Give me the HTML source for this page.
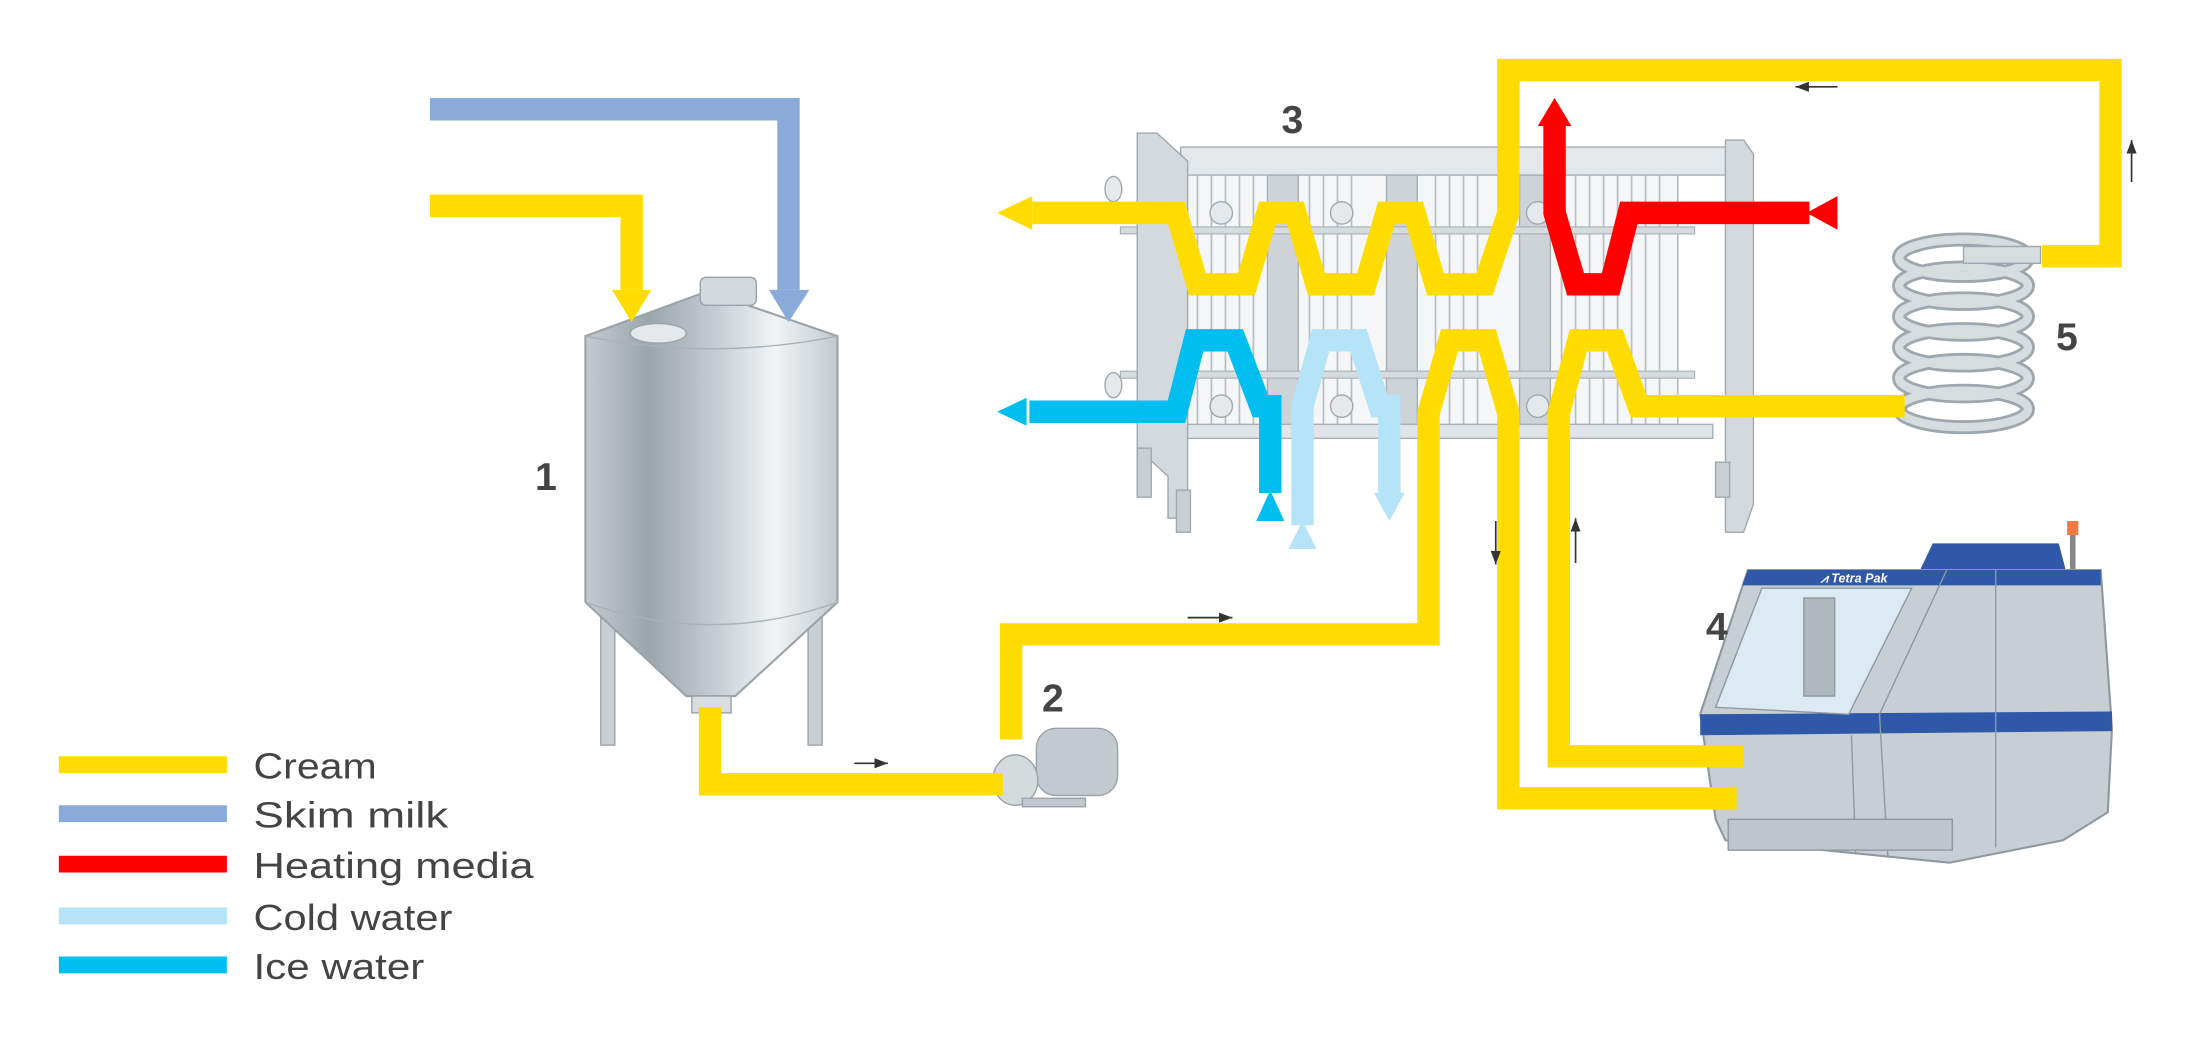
<!DOCTYPE html>
<html><head><meta charset="utf-8"><style>
html,body{margin:0;padding:0;background:#fff;}
svg{display:block;}
text{font-family:"Liberation Sans",sans-serif;}
</style></head><body>
<svg width="2196" height="1049" viewBox="0 0 1568 749" xmlns="http://www.w3.org/2000/svg">
<defs>
<linearGradient id="tank" x1="0" x2="1" y1="0" y2="0">
<stop offset="0" stop-color="#c4cbd0"/><stop offset="0.25" stop-color="#9aa5ad"/><stop offset="0.5" stop-color="#c3cad0"/><stop offset="0.75" stop-color="#f2f4f5"/><stop offset="1" stop-color="#c2c9ce"/>
</linearGradient>
<marker id="ar" markerWidth="8" markerHeight="6" refX="8" refY="3" orient="auto"><path d="M0,0 L8,3 L0,6 z" fill="#333"/></marker>
</defs>

<!-- Tank 1 -->
<rect x="429" y="435" width="10" height="97" fill="#c9cfd3" stroke="#9aa3aa"/>
<rect x="577" y="435" width="10" height="97" fill="#c9cfd3" stroke="#9aa3aa"/>
<path d="M418,240 L505,208 L598,240 L598,430 L525,497 L490,497 L418,430 Z" fill="url(#tank)" stroke="#9aa3aa" stroke-width="1.5"/>
<path d="M418,240 Q508,258 598,240" fill="none" stroke="#aab2b8"/>
<path d="M418,430 Q508,462 598,430" fill="none" stroke="#aab2b8"/>
<ellipse cx="470" cy="238" rx="20" ry="7" fill="#e4e8ea" stroke="#9aa3aa"/>
<rect x="500" y="198" width="40" height="20" rx="4" fill="#d3d8dc" stroke="#9aa3aa"/>
<rect x="494" y="497" width="28" height="12" fill="#d9dde0" stroke="#9aa3aa"/>

<!-- Heat exchanger 3 frame -->
<rect x="843" y="120" width="355" height="190" fill="#f4f6f7" stroke="#a8b0b6"/>
<g stroke="#b7bec3" stroke-width="1.2">
<path d="M855,125V305M865,125V305M875,125V305M885,125V305M895,125V305M935,125V305M945,125V305M955,125V305M965,125V305M1025,125V305M1035,125V305M1045,125V305M1055,125V305M1115,125V305M1125,125V305M1135,125V305M1145,125V305M1155,125V305M1165,125V305M1175,125V305M1185,125V305"/>
</g>
<rect x="905" y="125" width="22" height="180" fill="#cdd3d7" stroke="#a8b0b6"/>
<rect x="990" y="125" width="22" height="180" fill="#cdd3d7" stroke="#a8b0b6"/>
<rect x="1085" y="125" width="22" height="180" fill="#cdd3d7" stroke="#a8b0b6"/>
<rect x="843" y="105" width="405" height="20" fill="#e4e8ea" stroke="#a8b0b6"/>
<rect x="800" y="162" width="410" height="5" fill="#d6dbde" stroke="#a8b0b6" stroke-width="0.8"/>
<rect x="800" y="265" width="410" height="5" fill="#d6dbde" stroke="#a8b0b6" stroke-width="0.8"/>
<rect x="843" y="303" width="380" height="10" fill="#e1e5e8" stroke="#a8b0b6"/>
<path d="M812,95 L826,95 L848,115 L848,370 L834,370 L834,340 L812,320 Z" fill="#d3d9dd" stroke="#a0a9af"/>
<rect x="840" y="350" width="10" height="30" fill="#c9cfd3" stroke="#a0a9af"/>
<rect x="812" y="320" width="10" height="35" fill="#c9cfd3" stroke="#a0a9af"/>
<path d="M1232,100 L1245,100 L1252,110 L1252,360 L1245,380 L1232,380 Z" fill="#d3d9dd" stroke="#a0a9af"/>
<rect x="1225" y="330" width="10" height="25" fill="#c9cfd3" stroke="#a0a9af"/>
<g fill="#e6e9eb" stroke="#a0a9af">
<ellipse cx="795" cy="135" rx="6" ry="9"/><ellipse cx="795" cy="275" rx="6" ry="9"/>
<ellipse cx="872" cy="152" rx="8" ry="8"/><ellipse cx="958" cy="152" rx="8" ry="8"/><ellipse cx="1098" cy="152" rx="8" ry="8"/>
<ellipse cx="872" cy="290" rx="8" ry="8"/><ellipse cx="958" cy="290" rx="8" ry="8"/><ellipse cx="1098" cy="290" rx="8" ry="8"/>
</g>

<!-- Coil 5 -->
<g fill="none" stroke="#9ea7ad" stroke-width="10">
<ellipse cx="1402" cy="292" rx="46" ry="13"/><ellipse cx="1402" cy="270" rx="46" ry="13"/><ellipse cx="1402" cy="248" rx="46" ry="13"/><ellipse cx="1402" cy="226" rx="46" ry="13"/><ellipse cx="1402" cy="204" rx="46" ry="13"/><ellipse cx="1402" cy="184" rx="46" ry="13"/>
</g>
<g fill="none" stroke="#d7dcdf" stroke-width="6">
<ellipse cx="1402" cy="292" rx="46" ry="13"/><ellipse cx="1402" cy="270" rx="46" ry="13"/><ellipse cx="1402" cy="248" rx="46" ry="13"/><ellipse cx="1402" cy="226" rx="46" ry="13"/><ellipse cx="1402" cy="204" rx="46" ry="13"/><ellipse cx="1402" cy="184" rx="46" ry="13"/>
</g>
<rect x="1402" y="176" width="55" height="12" fill="#d7dcdf" stroke="#9ea7ad"/>

<!-- Pump 2 -->
<rect x="740" y="520" width="58" height="48" rx="14" fill="#c3cacf" stroke="#9aa3aa"/>
<ellipse cx="725" cy="557" rx="16" ry="18" fill="#d5dadd" stroke="#9aa3aa"/>
<rect x="730" y="570" width="45" height="6" fill="#c3cacf" stroke="#9aa3aa"/>

<!-- Machine 4 -->
<path d="M1371,407 L1380,388 L1470,388 L1475,407 Z" fill="#2f58a8"/>
<rect x="1478" y="380" width="4" height="28" fill="#888"/><rect x="1476" y="372" width="8" height="10" fill="#f07a40"/>
<path d="M1248,407 L1500,407 L1508,520 L1505,580 L1473,600 L1392,616 L1232,600 L1225,585 L1214,510 Z" fill="#c8cfd4" stroke="#8e989f" stroke-width="1.5"/>
<path d="M1248,407 L1500,407 L1500,418 L1244,418 Z" fill="#2f58a8"/>
<path d="M1214,510 L1508,508 L1508,522 L1214,525 Z" fill="#2f58a8"/>
<path d="M1258,420 L1365,420 L1320,510 L1225,505 Z" fill="#dcebf3" stroke="#8e989f"/>
<line x1="1322" y1="525" x2="1325" y2="610" stroke="#8e989f"/>
<line x1="1390" y1="407" x2="1342" y2="510" stroke="#8e989f"/>
<line x1="1342" y1="510" x2="1348" y2="612" stroke="#8e989f"/>
<line x1="1425" y1="407" x2="1425" y2="605" stroke="#8e989f"/>
<rect x="1288" y="427" width="22" height="70" fill="#b0b8be" stroke="#8e989f"/>
<rect x="1234" y="585" width="160" height="22" fill="#c0c7cc" stroke="#8e989f"/>
<text x="1300" y="416" font-size="9" font-style="italic" font-weight="bold" fill="#fff">⩘ Tetra Pak</text>

<!-- Pipes -->
<g fill="none" stroke-width="16" stroke-linejoin="miter">
<polyline points="307,78 563,78 563,207" stroke="#8aabda"/>
<polyline points="307,147 451,147 451,207" stroke="#ffdc00"/>
<polyline points="507,505 507,560 716,560" stroke="#ffdc00"/>
<polyline points="722,528 722,453 1020,453 1020,295 1035,243 1062,243 1077,295 1077,570 1240,570" stroke="#ffdc00"/>
<polyline points="1245,540 1113,540 1113,295 1127,243 1153,243 1170,290 1360,290" stroke="#ffdc00"/>
<polyline points="737,152 840,152 855,203 890,203 905,152 925,152 940,203 975,203 990,152 1010,152 1025,203 1060,203 1077,152 1077,50 1507,50 1507,183 1458,183" stroke="#ffdc00"/>
<polyline points="1292,152 1163,152 1150,203 1125,203 1110,152 1110,90" stroke="#ff0000"/>
<polyline points="735,294 840,294 853,243 882,243 900,290 907,290 907,352" stroke="#00bff0" />
<polyline points="930,375 930,290 943,243 970,243 985,290 992,290 992,352" stroke="#b5e3f8"/>
</g>
<polygon points="712,152 737,140 737,164" fill="#ffdc00"/>
<polygon points="712,294 733,284 733,304" fill="#00bff0"/>
<polygon points="437,207 465,207 451,230" fill="#ffdc00"/>
<polygon points="549,207 578,207 563,230" fill="#8aabda"/>
<polygon points="1110,70 1098,90 1122,90" fill="#ff0000"/>
<polygon points="1290,152 1312,140 1312,164" fill="#ff0000"/>
<polygon points="907,350 897,372 917,372" fill="#00bff0"/>
<polygon points="930,372 920,392 940,392" fill="#b5e3f8"/>
<polygon points="981,352 1003,352 992,372" fill="#b5e3f8"/>

<g stroke="#333" stroke-width="1.2" fill="none">
<line x1="610" y1="545" x2="634" y2="545" marker-end="url(#ar)"/>
<line x1="848" y1="441" x2="880" y2="441" marker-end="url(#ar)"/>
<line x1="1068" y1="372" x2="1068" y2="403" marker-end="url(#ar)"/>
<line x1="1125" y1="402" x2="1125" y2="370" marker-end="url(#ar)"/>
<line x1="1312" y1="62" x2="1282" y2="62" marker-end="url(#ar)"/>
<line x1="1522" y1="130" x2="1522" y2="100" marker-end="url(#ar)"/>
</g>

<g font-size="28" font-weight="bold" fill="#444">
<text x="382" y="350">1</text>
<text x="744" y="508">2</text>
<text x="915" y="95">3</text>
<text x="1218" y="457">4</text>
<text x="1468" y="250">5</text>
</g>

<g stroke-width="12">
<line x1="42" y1="546" x2="162" y2="546" stroke="#ffdc00"/>
<line x1="42" y1="581" x2="162" y2="581" stroke="#8aabda"/>
<line x1="42" y1="617" x2="162" y2="617" stroke="#ff0000"/>
<line x1="42" y1="654" x2="162" y2="654" stroke="#b5e3f8"/>
<line x1="42" y1="689" x2="162" y2="689" stroke="#00bff0"/>
</g>
<g font-size="26" fill="#444">
<text x="181" y="556" textLength="88" lengthAdjust="spacingAndGlyphs">Cream</text>
<text x="181" y="591" textLength="139" lengthAdjust="spacingAndGlyphs">Skim milk</text>
<text x="181" y="627" textLength="200" lengthAdjust="spacingAndGlyphs">Heating media</text>
<text x="181" y="664" textLength="142" lengthAdjust="spacingAndGlyphs">Cold water</text>
<text x="181" y="699" textLength="122" lengthAdjust="spacingAndGlyphs">Ice water</text>
</g>
</svg>
</body></html>
